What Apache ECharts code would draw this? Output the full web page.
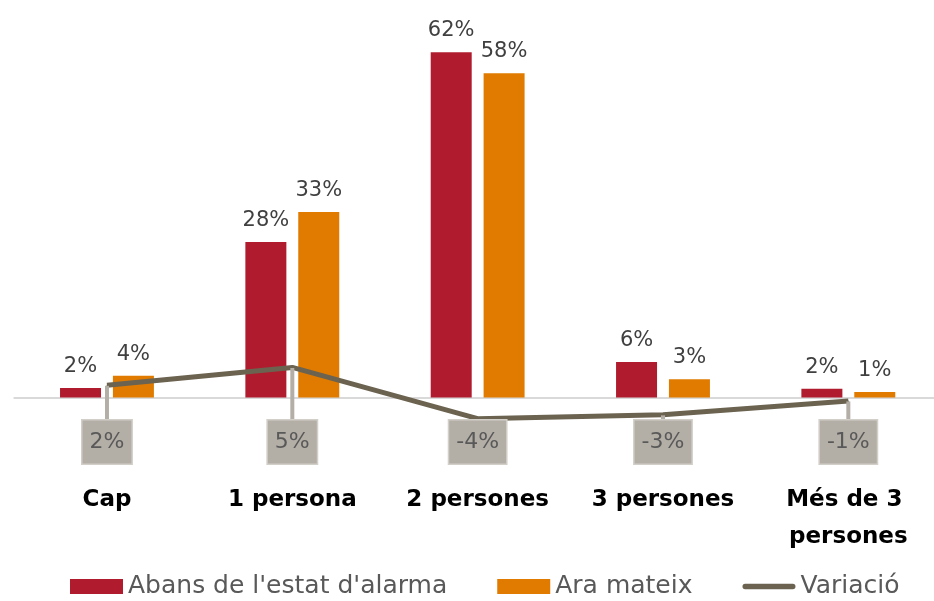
<!DOCTYPE html>
<html>
<head>
<meta charset="utf-8">
<script src="https://cdn.jsdelivr.net/npm/echarts@6/dist/echarts.min.js"></script>
<style>
html,body{margin:0;padding:0;background:#fff;}
#chart{width:934px;height:601px;}
</style>
</head>
<body>
<div id="chart"></div>
<script>
var categories = ['Cap', '1 persona', '2 persones', '3 persones', 'Més de 3 persones'];
var abans = [1.7, 27.9, 62.0, 6.4, 1.6];
var ara = [3.9, 33.3, 58.2, 3.3, 1.0];
var variacio = [2.2, 5.4, -3.8, -3.1, -0.6];
var seriesNames = ["Abans de l'estat d'alarma", 'Ara mateix', 'Variació'];

var FONT = '"DejaVu Sans", sans-serif';
var chart = echarts.init(document.getElementById('chart'), null, {renderer: 'canvas'});
function pct(p){ var r = Math.round(p.value); if (r === 0) r = 0; return r + '%'; }

chart.setOption({
  animation: false,
  textStyle: {fontFamily: FONT},
  grid: {left: 14.3, right: -7, top: 7.6, bottom: 119.9, containLabel: false, outerBoundsMode: 'none'},
  legend: {
    top: 574,
    left: 70,
    padding: 0,
    itemWidth: 53,
    itemHeight: 15,
    itemGap: 50,
    textStyle: {fontFamily: FONT, fontSize: 25, color: '#595959'},
    data: [
      {name: seriesNames[0], icon: 'rect'},
      {name: seriesNames[1], icon: 'rect'},
      {name: seriesNames[2], icon: 'path://M5,0H95A5,5 0 0 1 95,10H5A5,5 0 0 1 5,0Z'}
    ]
  },
  xAxis: {
    type: 'category',
    data: categories,
    axisLine: {onZero: true, lineStyle: {color: '#d9d9d9', width: 2}},
    axisTick: {show: false},
    axisLabel: {
      margin: 0,
      fontFamily: FONT,
      fontWeight: 'bold',
      fontSize: 23,
      color: '#000',
      lineHeight: 37,
      width: 165,
      overflow: 'break',
      interval: 0
    }
  },
  yAxis: {
    type: 'value',
    min: -15,
    max: 70,
    show: false,
    splitLine: {show: false}
  },
  series: [
    {
      name: seriesNames[0],
      type: 'bar',
      data: abans,
      barWidth: 41,
      barGap: '29%',
      itemStyle: {color: '#b01c2e'},
      label: {show: true, position: 'top', distance: 11, formatter: pct,
        fontFamily: FONT, fontSize: 21, color: '#404040'}
    },
    {
      name: seriesNames[1],
      type: 'bar',
      data: ara,
      barWidth: 41,
      itemStyle: {color: '#e07b00'},
      label: {show: true, position: 'top', distance: 11, formatter: pct,
        fontFamily: FONT, fontSize: 21, color: '#404040'}
    },
    {
      name: seriesNames[2],
      type: 'line',
      data: variacio,
      symbol: 'circle',
      symbolSize: 1,
      showSymbol: true,
      z: 5,
      lineStyle: {color: '#6b6350', width: 5},
      itemStyle: {color: '#6b6350'},
      label: {
        show: true,
        position: 'bottom',
        formatter: pct,
        fontFamily: FONT,
        fontSize: 22,
        color: '#595959',
        backgroundColor: '#b3aea6',
        borderColor: '#d2cfc9',
        borderWidth: 1.5,
        padding: [11, 7, 10, 7]
      },
      labelLine: {show: true, lineStyle: {color: '#b3aea6', width: 4}},
      labelLayout: function (p) {
        var cy = p.labelRect.y + p.labelRect.height / 2;
        return {dy: 442 - cy};
      }
    }
  ]
});
</script>
</body>
</html>
